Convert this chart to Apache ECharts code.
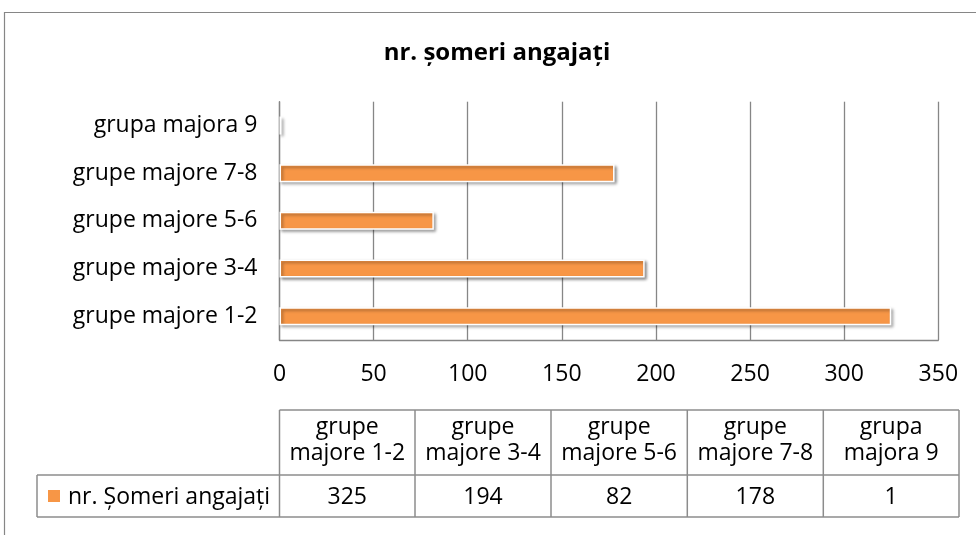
<!DOCTYPE html>
<html>
<head>
<meta charset="utf-8">
<script src="https://cdn.jsdelivr.net/npm/echarts@6/dist/echarts.min.js"></script>
<style>
  html, body { margin: 0; padding: 0; background: #fff; }
  #chart { width: 976px; height: 535px; }
</style>
</head>
<body>
<div id="chart"></div>
<script>
// Data: categories listed bottom-to-top on the category axis, and in table order left-to-right
const categories = ['grupe majore 1-2', 'grupe majore 3-4', 'grupe majore 5-6', 'grupe majore 7-8', 'grupa majora 9'];
const values = [325, 194, 82, 178, 1];
const chartTitle = 'nr. șomeri angajați';
const seriesName = 'nr. Șomeri angajați';
const axisMin = 0;
const axisMax = 350;
const axisStep = 50;

const FONT = "'Open Sans', 'Noto Sans', sans-serif";
const FONT_SIZE = 23;
const GRID_COLOR = '#868686';
const TABLE_COLOR = '#8c8c8c';
const BAR_COLOR = '#F79646';

const chart = echarts.init(document.getElementById('chart'), null, { renderer: 'canvas' });

// Data table layout beneath the plot
const table = {
  labelLeft: 37,
  colLefts: [279.5, 415, 551, 687.3, 823.3],
  right: 959,
  headTop: 410,
  rowTop: 475,
  bottom: 517
};

function buildTable() {
  const els = [];
  const line = (x1, y1, x2, y2) => ({
    type: 'line',
    shape: { x1, y1, x2, y2 },
    style: { stroke: TABLE_COLOR, lineWidth: 1.5 },
    silent: true
  });
  // horizontal rules
  els.push(line(table.colLefts[0], table.headTop, table.right, table.headTop));
  els.push(line(table.labelLeft, table.rowTop, table.right, table.rowTop));
  els.push(line(table.labelLeft, table.bottom, table.right, table.bottom));
  // vertical rules
  els.push(line(table.labelLeft, table.rowTop, table.labelLeft, table.bottom));
  table.colLefts.concat([table.right]).forEach(x => {
    els.push(line(x, table.headTop, x, table.bottom));
  });
  const font = FONT_SIZE + 'px ' + FONT;
  // header and value cells
  categories.forEach((cat, i) => {
    const left = table.colLefts[i];
    const right = i + 1 < table.colLefts.length ? table.colLefts[i + 1] : table.right;
    const cx = (left + right) / 2;
    const sp = cat.indexOf(' ');
    const head = [cat.slice(0, sp), cat.slice(sp + 1)];
    head.forEach((t, k) => {
      els.push({
        type: 'text',
        x: cx, y: 427 + k * 26.6,
        style: { text: t, fill: '#000', font, align: 'center', verticalAlign: 'middle' },
        silent: true
      });
    });
    els.push({
      type: 'text',
      x: cx, y: 497,
      style: { text: String(values[i]), fill: '#000', font, align: 'center', verticalAlign: 'middle' },
      silent: true
    });
  });
  // legend key and series name in the row header
  els.push({
    type: 'rect',
    shape: { x: 48, y: 490, width: 12, height: 12 },
    style: { fill: BAR_COLOR },
    silent: true
  });
  els.push({
    type: 'text',
    x: 68, y: 497,
    style: { text: seriesName, fill: '#000', font, align: 'left', verticalAlign: 'middle' },
    silent: true
  });
  return els;
}

const graphics = [
  // outer chart frame
  {
    type: 'rect',
    shape: { x: 4.5, y: 12.5, width: 1000, height: 600 },
    style: { fill: 'none', stroke: GRID_COLOR, lineWidth: 1.2 },
    silent: true
  },
  // chart title
  {
    type: 'text',
    x: 497, y: 53,
    style: { text: chartTitle, fill: '#000', font: 'bold 24px ' + FONT, align: 'center', verticalAlign: 'middle' },
    silent: true
  }
].concat(buildTable());

chart.setOption({
  animation: false,
  backgroundColor: '#fff',
  textStyle: { fontFamily: FONT },
  grid: { left: 279.5, right: 37.7, top: 101.7, bottom: 195, containLabel: false },
  xAxis: {
    type: 'value',
    min: axisMin,
    max: axisMax,
    interval: axisStep,
    axisLine: { show: true, lineStyle: { color: GRID_COLOR, width: 1.3 } },
    axisTick: { show: false },
    splitLine: { show: true, lineStyle: { color: GRID_COLOR, width: 1.3 } },
    axisLabel: { color: '#000', fontSize: FONT_SIZE, fontFamily: FONT, margin: 23 }
  },
  yAxis: {
    type: 'category',
    data: categories,
    axisLine: { show: true, lineStyle: { color: GRID_COLOR, width: 1.3 } },
    axisTick: { show: false },
    splitLine: { show: false },
    axisLabel: { color: '#000', fontSize: FONT_SIZE, fontFamily: FONT, margin: 22 }
  },
  series: [{
    name: seriesName,
    type: 'bar',
    data: values,
    barWidth: 18,
    itemStyle: {
      color: BAR_COLOR,
      borderColor: '#fff',
      borderWidth: 1.5,
      shadowColor: 'rgba(0,0,0,0.4)',
      shadowBlur: 3,
      shadowOffsetX: 2,
      shadowOffsetY: 2
    }
  }],
  graphic: graphics
});
</script>
</body>
</html>
